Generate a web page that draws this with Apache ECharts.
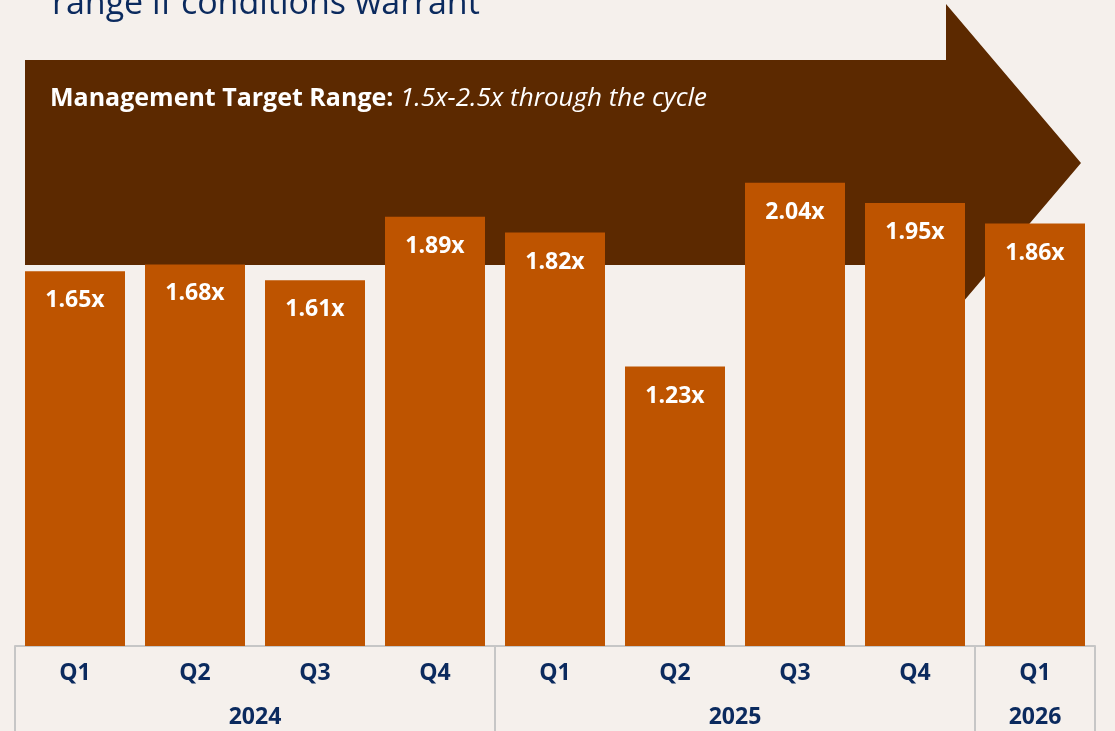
<!DOCTYPE html>
<html>
<head>
<meta charset="utf-8">
<script src="https://cdn.jsdelivr.net/npm/echarts@6/dist/echarts.min.js"></script>
<style>
  html, body { margin: 0; padding: 0; background: #f5f0ec; }
  #chart { width: 1115px; height: 731px; }
</style>
</head>
<body>
<div id="chart"></div>
<script>
// quarterly values, one per bar
const quarters = ['Q1', 'Q2', 'Q3', 'Q4', 'Q1', 'Q2', 'Q3', 'Q4', 'Q1'];
const coverage = [1.65, 1.68, 1.61, 1.89, 1.82, 1.23, 2.04, 1.95, 1.86];
// second row of the axis: years and how many quarters each one spans
const years = ['2024', '2025', '2026'];
const yearSpans = [4, 4, 1];

const navy = '#0b2a5e';
const grey = '#c6c6c6';
const font = 'Open Sans';

// year boundaries / centres in "quarter" units
let yearEdges = [0], yearCenters = [];
yearSpans.forEach((n, i) => {
  let start = yearEdges[i];
  yearEdges.push(start + n);
  yearCenters.push(start + n / 2);
});

const chart = echarts.init(document.getElementById('chart'));

const options = {
  backgroundColor: '#f5f0ec',
  animation: false,
  grid: { left: 15, right: 20, top: 10, bottom: 85 },
  xAxis: [
    {
      type: 'category',
      data: quarters,
      axisLine: { lineStyle: { color: grey, width: 2 } },
      axisTick: { interval: 0, length: 47, lineStyle: { color: grey, width: 2 } },
      axisLabel: {
        interval: 0, margin: 16,
        color: navy, fontSize: 23, fontWeight: 'bold', fontFamily: font
      }
    },
    {
      type: 'value',
      position: 'bottom',
      min: 0,
      max: quarters.length,
      splitLine: { show: false },
      axisLine: { show: false },
      axisTick: { show: true, customValues: yearEdges, length: 90, lineStyle: { color: grey, width: 2 } },
      axisLabel: {
        customValues: yearCenters,
        margin: 60,
        color: navy, fontSize: 23, fontWeight: 'bold', fontFamily: font,
        formatter: function (v) {
          let i = yearCenters.indexOf(v);
          return i >= 0 ? years[i] : '';
        }
      }
    }
  ],
  yAxis: {
    type: 'value',
    min: 0,
    max: 2.8,
    show: false,
    splitLine: { show: false }
  },
  graphic: [
    {
      type: 'polygon',
      z: 0,
      shape: {
        points: [[25, 60], [946, 60], [946, 4], [1081, 163], [946, 322], [946, 265], [25, 265]]
      },
      style: { fill: '#5c2900' }
    },
    {
      type: 'text',
      z: 1,
      left: 50,
      top: 86,
      style: {
        text: '{b|Management Target Range: }{i|1.5x-2.5x through the cycle}',
        rich: {
          b: { fill: '#fff', fontSize: 25, fontWeight: 'bold', fontFamily: font },
          i: { fill: '#fff', fontSize: 26, fontStyle: 'italic', fontFamily: font }
        }
      }
    },
    {
      type: 'text',
      z: 1,
      left: 52,
      top: -13,
      style: {
        text: 'range if conditions warrant',
        fill: navy,
        fontSize: 34,
        fontFamily: font
      }
    }
  ],
  series: [
    {
      type: 'bar',
      data: coverage,
      barWidth: 100,
      z: 2,
      itemStyle: { color: '#be5400' },
      label: {
        show: true,
        position: 'insideTop',
        distance: 18,
        color: '#fff',
        fontSize: 23,
        fontWeight: 'bold',
        fontFamily: font,
        formatter: function (p) {
          return p.value.toFixed(2) + 'x';
        }
      }
    }
  ]
};

chart.setOption(options);
</script>
</body>
</html>
